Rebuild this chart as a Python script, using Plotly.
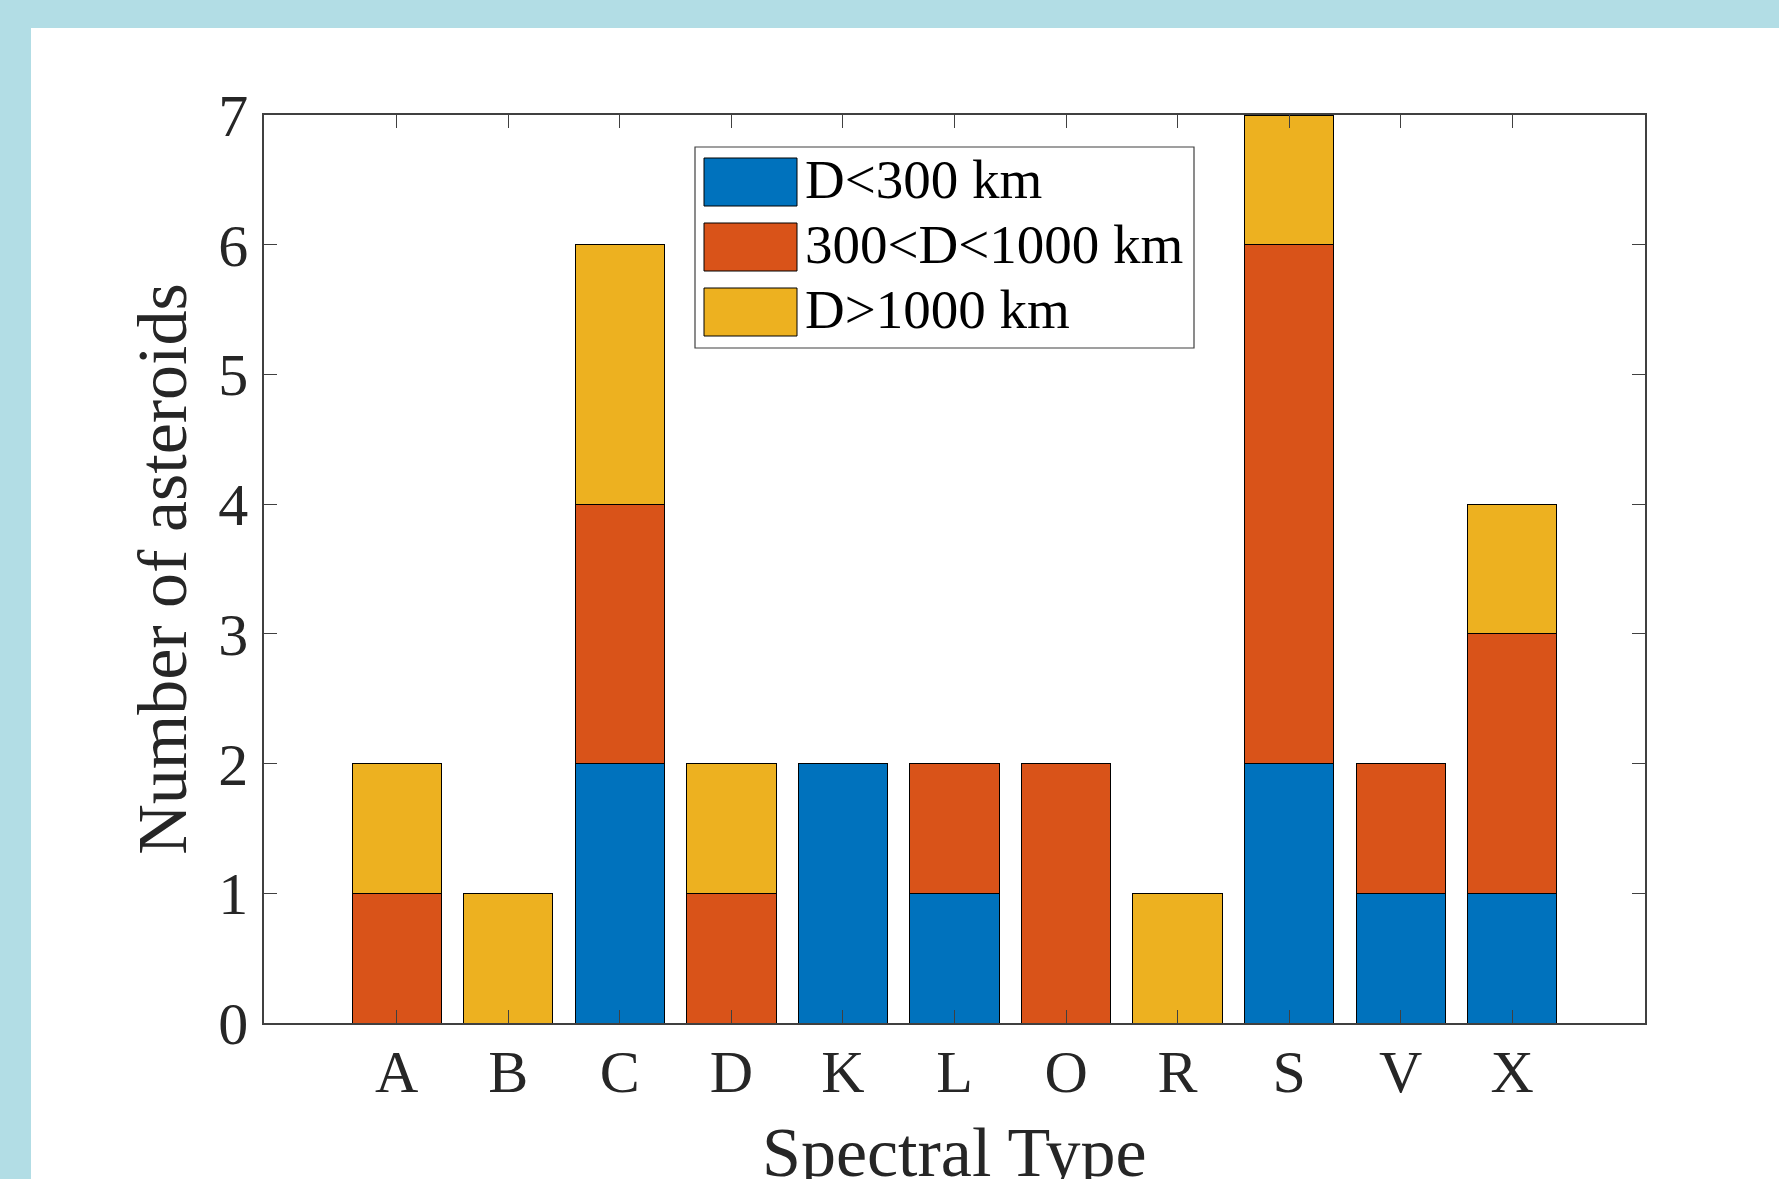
import plotly.graph_objects as go

# ---- data ----
categories = ["A", "B", "C", "D", "K", "L", "O", "R", "S", "V", "X"]
small = [0, 0, 2, 0, 2, 1, 0, 0, 2, 1, 1]        # D<300 km
medium = [1, 0, 2, 1, 0, 1, 2, 0, 4, 1, 2]       # 300<D<1000 km
large = [1, 1, 2, 1, 0, 0, 0, 1, 1, 0, 1]        # D>1000 km
series_names = ["D<300 km", "300<D<1000 km", "D>1000 km"]
series_colors = ["#0072BD", "#D95319", "#EDB120"]
y_ticks = [0, 1, 2, 3, 4, 5, 6, 7]

W, H = 1779, 1179
L, R, T, B = 264, 1645, 115, 1023   # plot area in px
FONT = "Liberation Serif"
TXT = "#262626"
AX = "#404040"


def xp(px):
    return (px - L) / (R - L)


def yp(py):
    return (B - py) / (B - T)


fig = go.Figure()
for name, vals, col in zip(series_names, [small, medium, large], series_colors):
    fig.add_trace(go.Bar(
        x=categories, y=vals, name=name,
        marker=dict(color=col, line=dict(color="black", width=1)),
        showlegend=False,
    ))

shapes = []
# white canvas on blue background
shapes.append(dict(type="rect", xref="paper", yref="paper",
                   x0=xp(31), x1=xp(W + 5), y0=yp(H + 5), y1=yp(28),
                   fillcolor="white", line=dict(width=0), layer="below"))

# manual legend (MATLAB-like large swatches)
shapes.append(dict(type="rect", xref="paper", yref="paper",
                   x0=xp(695), x1=xp(1194), y0=yp(348), y1=yp(147),
                   fillcolor="white", line=dict(color=AX, width=1.2), layer="above"))
annotations = []
row_centers = [182, 247, 312]
for name, col, cy in zip(series_names, series_colors, row_centers):
    shapes.append(dict(type="rect", xref="paper", yref="paper",
                       x0=xp(704), x1=xp(797), y0=yp(cy + 24), y1=yp(cy - 24),
                       fillcolor=col, line=dict(color="black", width=1), layer="above"))
    annotations.append(dict(xref="paper", yref="paper", x=xp(803), y=yp(cy - 3),
                            xanchor="left", yanchor="middle", showarrow=False,
                            text=name, font=dict(family=FONT, size=55, color="black")))

# x-axis title (placed as annotation so it can sit partly below the canvas edge)
annotations.append(dict(xref="paper", yref="paper", x=0.5, y=yp(1152),
                        xanchor="center", yanchor="middle", showarrow=False,
                        text="Spectral Type", font=dict(family=FONT, size=70, color=TXT)))

fig.update_layout(
    width=W, height=H,
    barmode="stack", bargap=0.2,
    paper_bgcolor="#B2DDE5", plot_bgcolor="white",
    margin=dict(l=L, r=W - R, t=T, b=H - B, autoexpand=False),
    shapes=shapes, annotations=annotations,
    showlegend=False,
    font=dict(family=FONT, color=TXT),
)
fig.update_xaxes(
    range=[-1.19, 11.19], showgrid=False, zeroline=False,
    showline=True, linecolor=AX, linewidth=1.5, mirror="ticks",
    ticks="inside", ticklen=13, tickwidth=1.2, tickcolor=AX,
    tickfont=dict(family=FONT, size=60, color=TXT),
    ticklabelstandoff=-5,
    automargin=False,
)
fig.update_yaxes(
    range=[0, 7], tickvals=y_ticks, showgrid=False, zeroline=False,
    showline=True, linecolor=AX, linewidth=1.5, mirror="ticks",
    ticks="inside", ticklen=13, tickwidth=1.2, tickcolor=AX,
    tickfont=dict(family=FONT, size=60, color=TXT),
    ticklabelstandoff=2,
    title=dict(text="Number of asteroids", font=dict(family=FONT, size=70, color=TXT), standoff=9),
    automargin=False,
)

fig.write_html(
    "out.html",
    config={"displayModeBar": False},
    post_script="document.body.style.margin='0';document.body.style.overflow='hidden';",
)
